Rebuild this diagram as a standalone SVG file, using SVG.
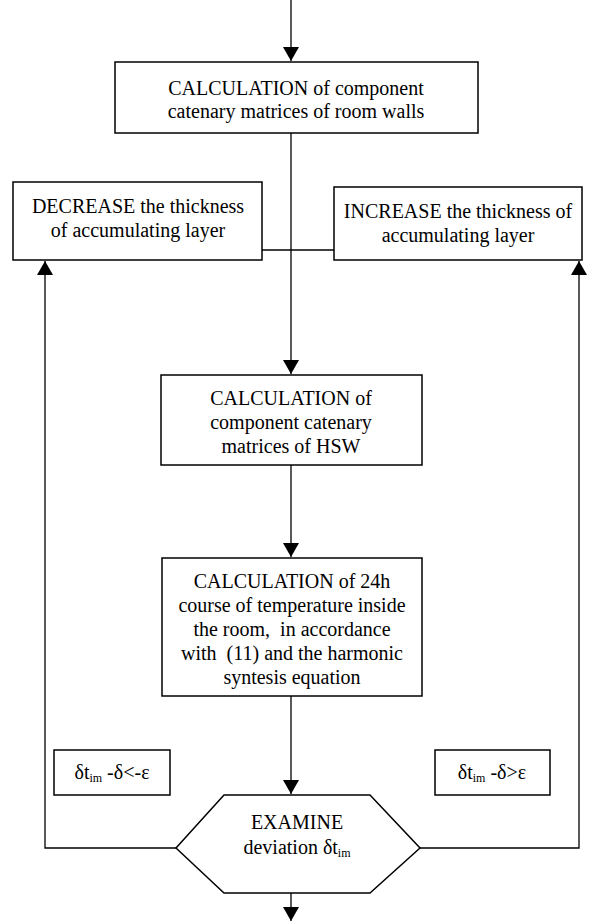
<svg xmlns="http://www.w3.org/2000/svg" width="593" height="924" viewBox="0 0 593 924">
<defs>
<marker id="arr" markerWidth="14" markerHeight="16" refX="14" refY="8" orient="auto" markerUnits="userSpaceOnUse">
<path d="M0,0 L14,8 L0,16 Z" fill="#000"/>
</marker>
</defs>
<style>
.box{fill:#fff;stroke:#000;stroke-width:1.5}
.ln{fill:none;stroke:#000;stroke-width:1.3}
text{font-family:"Liberation Serif","Times New Roman",serif;font-size:20px;fill:#000;text-anchor:middle}
.sub{font-size:12px}
</style>
<rect width="593" height="924" fill="#fff"/>
<g id="connectors">
<path class="ln" d="M291,0 L291,61" marker-end="url(#arr)"/>
<path class="ln" d="M291,133 L291,374" marker-end="url(#arr)"/>
<path class="ln" d="M262,250 L334,250"/>
<path class="ln" d="M291,465 L291,557" marker-end="url(#arr)"/>
<path class="ln" d="M291,696 L291,794" marker-end="url(#arr)"/>
<path class="ln" d="M176,848 L45,848 L45,261" marker-end="url(#arr)"/>
<path class="ln" d="M420,848 L579,848 L579,261" marker-end="url(#arr)"/>
<path class="ln" d="M291,893 L291,921" marker-end="url(#arr)"/>
</g>
<g id="n1">
<rect class="box" x="115" y="62" width="363" height="71"/>
<text x="296" y="95">CALCULATION of component</text>
<text x="296" y="118">catenary matrices of room walls</text>
</g>
<g id="n2">
<rect class="box" x="13" y="182" width="249" height="78"/>
<text x="138" y="213">DECREASE the thickness</text>
<text x="138" y="237">of accumulating layer</text>
</g>
<g id="n3">
<rect class="box" x="334" y="187" width="248" height="73"/>
<text x="458" y="218">INCREASE the thickness of</text>
<text x="458" y="242">accumulating layer</text>
</g>
<g id="n4">
<rect class="box" x="161" y="375" width="261" height="90"/>
<text x="291" y="405">CALCULATION of</text>
<text x="291" y="429">component catenary</text>
<text x="291" y="453">matrices of HSW</text>
</g>
<g id="n5">
<rect class="box" x="162" y="558" width="260" height="138"/>
<text x="292" y="588">CALCULATION of 24h</text>
<text x="292" y="612">course of temperature inside</text>
<text x="292" y="636" xml:space="preserve">the room,  in accordance</text>
<text x="292" y="660" xml:space="preserve">with  (11) and the harmonic</text>
<text x="292" y="684">syntesis equation</text>
</g>
<g id="n6">
<rect class="box" x="54" y="750" width="116" height="45"/>
<text x="112" y="779">δt<tspan class="sub" dy="3">im</tspan><tspan dy="-3"> -δ&lt;-ε</tspan></text>
</g>
<g id="n7">
<rect class="box" x="435" y="750" width="115" height="45"/>
<text x="492" y="779">δt<tspan class="sub" dy="3">im</tspan><tspan dy="-3"> -δ&gt;ε</tspan></text>
</g>
<g id="n8">
<polygon class="box" points="224,795 370,795 420,848 370,893 224,893 176,848"/>
<text x="297" y="829">EXAMINE</text>
<text x="297" y="854">deviation δt<tspan class="sub" dy="3">im</tspan></text>
</g>
</svg>
